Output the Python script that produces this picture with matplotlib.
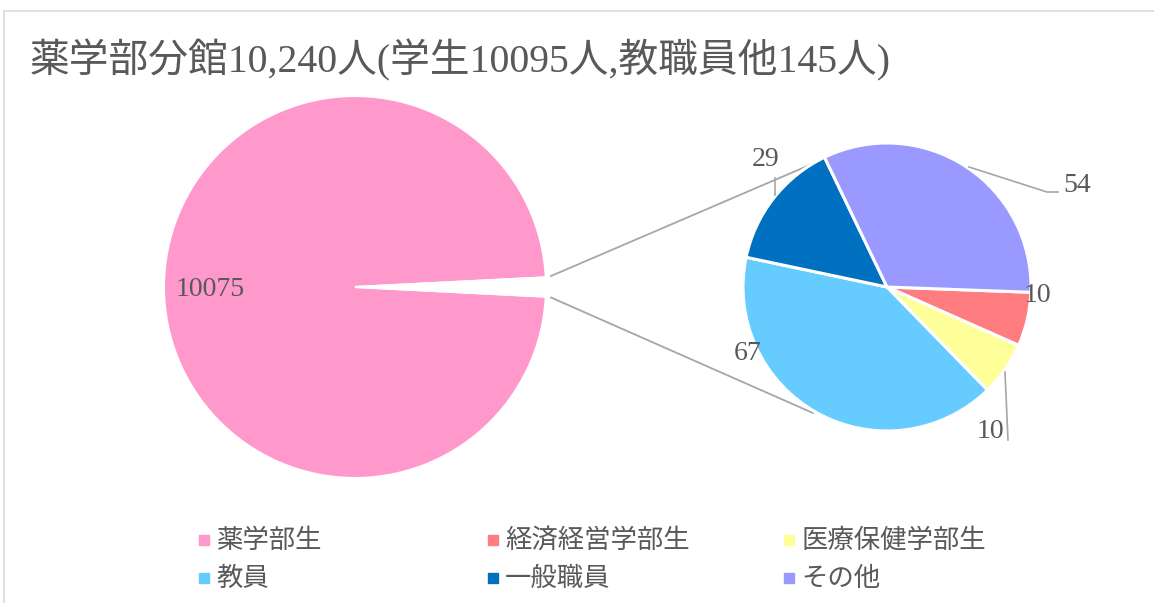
import matplotlib
matplotlib.use("Agg")
import matplotlib.pyplot as plt
from matplotlib.patches import Rectangle

# data
title = "薬学部分館10,240人(学生10095人,教職員他145人)"
categories = ["薬学部生", "経済経営学部生", "医療保健学部生", "教員", "一般職員", "その他"]
main_value = 10075
# wedge sizes of the secondary pie (consistent with the 10,240 total in the title)
sub_values = [10, 10, 67, 24, 54]
# data labels as printed on the chart
main_label = "10075"
sub_labels = ["10", "10", "67", "29", "54"]
colors = ["#FF99CC", "#FF7C80", "#FFFF99", "#66CCFF", "#0070C0", "#9999FF"]

W, H = 1154, 603
TXT = "#595959"
LINE = "#A6A6A6"
FAM = ["Liberation Serif", "Noto Sans CJK JP"]
FAM_CJK = ["Noto Sans CJK JP", "DejaVu Sans"]


def py(y):
    return H - y


fig = plt.figure(figsize=(W / 100, H / 100), dpi=100)
ax = fig.add_axes([0, 0, 1, 1])

# chart frame
ax.add_patch(Rectangle((4, py(H + 20)), W + 20, H + 20 - 11, fill=False,
                       edgecolor="#D9D9D9", linewidth=1.2))

# main pie, the "other" slice left blank
other_total = sum(sub_values)
ax.pie([main_value, other_total], colors=[colors[0], "white"], startangle=2.9,
       center=(355, py(287)), radius=191, frame=True,
       wedgeprops=dict(edgecolor="white", linewidth=1.5))

# secondary pie
ax.pie(sub_values, colors=colors[1:], startangle=-2.1, counterclock=False,
       center=(887, py(287)), radius=144, frame=True,
       wedgeprops=dict(edgecolor="white", linewidth=2.2))

# connector lines
ax.plot([551, 826], [py(276), py(158)], color=LINE, lw=1.3, zorder=0)
ax.plot([551, 813], [py(297.5), py(413)], color=LINE, lw=1.3, zorder=0)

# leader lines
ax.plot([775, 775], [py(178), py(195)], color=LINE, lw=1.2)
ax.plot([969, 1047, 1058], [py(167), py(192), py(192)], color=LINE, lw=1.2)
ax.plot([1005, 1008], [py(372), py(440)], color=LINE, lw=1.2)

# data labels
lab_pos = [(1037, 296), (990, 431), (748, 354), (766, 160), (1077, 185)]
ax.text(210, py(289), main_label, ha="center", va="center", fontsize=20,
        color=TXT, family=FAM)
for txt, (x, y) in zip(sub_labels, lab_pos):
    ax.text(x, py(y), txt, ha="center", va="center", fontsize=20,
            color=TXT, family=FAM)

# title
ax.text(30, py(60), title, ha="left", va="center", fontsize=28.6,
        color=TXT, family=FAM)

# legend, 3 columns x 2 rows
col_x = [204, 493, 789]
row_y = [540, 578]
for i, (name, c) in enumerate(zip(categories, colors)):
    x, y = col_x[i % 3], row_y[i // 3]
    ax.plot([x], [py(y)], marker="s", ms=7, color=c, mec=c, ls="none")
    ax.text(x + 12, py(y), name, ha="left", va="center", fontsize=19,
            color=TXT, family=FAM_CJK)

ax.set_xlim(0, W)
ax.set_ylim(0, H)
ax.axis("off")
fig.savefig("out.png", dpi=100)
